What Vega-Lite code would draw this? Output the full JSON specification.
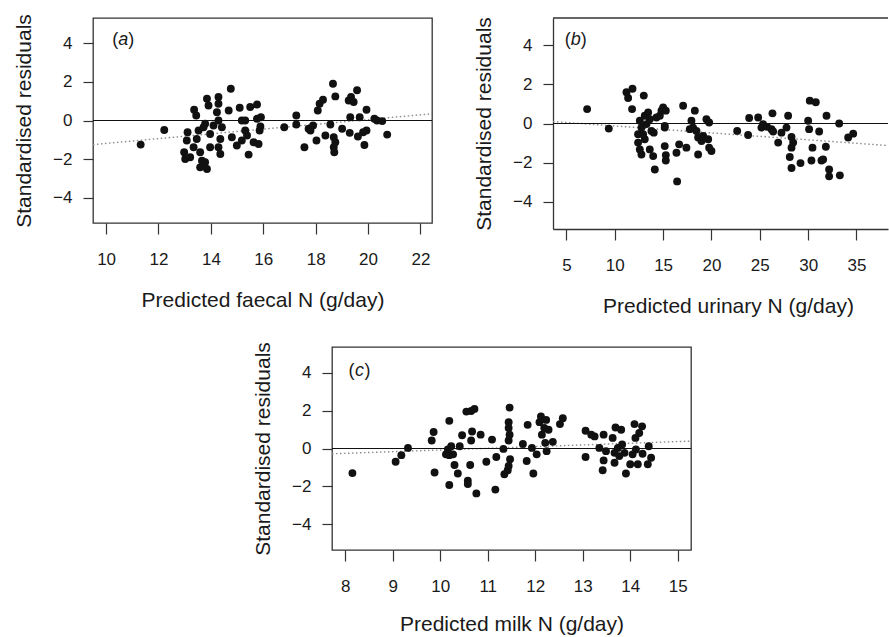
{
  "$schema": "https://vega.github.io/schema/vega-lite/v6.json",
  "padding": {"left": 12, "top": 13, "right": 0, "bottom": 0},
  "autosize": {"type": "pad"},
  "background": "white",
  "spacing": 25,
  "bounds": "full",
  "datasets": {
    "ptsA": [
      {"x":11.32,"y":-1.25},{"x":12.22,"y":-0.49},{"x":13.36,"y":0.56},{"x":13.44,"y":0.26},{"x":13.11,"y":-0.61},{"x":13.08,"y":-1.04},{"x":12.98,"y":-1.65},{"x":13.02,"y":-2.0},{"x":13.21,"y":-1.91},{"x":13.34,"y":-1.39},{"x":13.46,"y":-0.96},{"x":13.59,"y":-2.43},{"x":13.66,"y":-2.09},{"x":13.85,"y":-2.52},{"x":13.78,"y":-2.17},{"x":13.59,"y":-1.65},{"x":13.53,"y":-0.52},{"x":13.72,"y":-0.35},{"x":13.85,"y":1.13},{"x":13.91,"y":0.78},{"x":13.78,"y":-0.17},{"x":13.97,"y":-1.39},{"x":13.97,"y":-0.7},{"x":14.1,"y":-0.26},{"x":14.23,"y":0.43},{"x":14.29,"y":1.22},{"x":14.29,"y":0.87},{"x":14.29,"y":0.0},{"x":14.36,"y":-0.96},{"x":14.36,"y":-1.74},{"x":14.29,"y":-1.39},{"x":14.42,"y":-0.35},{"x":14.68,"y":0.52},{"x":14.76,"y":1.65},{"x":14.8,"y":-0.87},{"x":14.99,"y":-1.3},{"x":15.1,"y":0.66},{"x":15.18,"y":0.0},{"x":15.18,"y":-1.04},{"x":15.31,"y":-0.52},{"x":15.38,"y":-0.78},{"x":15.44,"y":-1.77},{"x":15.31,"y":0.0},{"x":15.5,"y":0.7},{"x":15.63,"y":-1.13},{"x":15.76,"y":0.83},{"x":15.76,"y":0.09},{"x":15.82,"y":-1.22},{"x":15.86,"y":-0.52},{"x":15.91,"y":0.17},{"x":15.89,"y":-0.31},{"x":16.8,"y":-0.35},{"x":17.26,"y":0.26},{"x":17.26,"y":-0.21},{"x":17.57,"y":-1.39},{"x":17.73,"y":-0.43},{"x":17.8,"y":-0.52},{"x":17.9,"y":-0.26},{"x":18.03,"y":-1.04},{"x":18.08,"y":0.52},{"x":18.15,"y":0.87},{"x":18.28,"y":1.08},{"x":18.37,"y":-0.78},{"x":18.56,"y":-0.21},{"x":18.66,"y":1.91},{"x":18.69,"y":-0.87},{"x":18.75,"y":1.25},{"x":18.69,"y":-1.39},{"x":18.71,"y":-1.65},{"x":18.75,"y":-1.13},{"x":19.01,"y":-0.43},{"x":19.26,"y":1.04},{"x":19.3,"y":-0.64},{"x":19.32,"y":0.17},{"x":19.35,"y":1.22},{"x":19.45,"y":0.96},{"x":19.58,"y":1.57},{"x":19.61,"y":-0.83},{"x":19.68,"y":0.17},{"x":19.81,"y":-0.61},{"x":19.86,"y":-1.27},{"x":19.94,"y":0.56},{"x":19.94,"y":-0.52},{"x":20.24,"y":0.09},{"x":20.34,"y":0.0},{"x":20.54,"y":-0.03},{"x":20.73,"y":-0.73}
    ],
    "ptsB": [
      {"x":7.14,"y":0.74},{"x":9.38,"y":-0.26},{"x":11.21,"y":1.6},{"x":11.38,"y":1.31},{"x":11.83,"y":1.78},{"x":11.79,"y":0.74},{"x":13.0,"y":1.43},{"x":12.59,"y":0.14},{"x":12.76,"y":-0.21},{"x":12.41,"y":-0.55},{"x":12.41,"y":-0.98},{"x":12.59,"y":-1.33},{"x":12.76,"y":-1.59},{"x":13.1,"y":0.4},{"x":13.28,"y":-0.03},{"x":13.1,"y":-0.81},{"x":12.93,"y":-0.55},{"x":13.45,"y":0.57},{"x":13.62,"y":0.22},{"x":13.62,"y":-1.33},{"x":13.97,"y":-1.67},{"x":13.79,"y":-0.38},{"x":14.14,"y":-2.36},{"x":14.03,"y":-0.47},{"x":14.31,"y":0.31},{"x":14.66,"y":0.4},{"x":14.83,"y":0.66},{"x":15.0,"y":0.83},{"x":15.17,"y":-0.12},{"x":15.28,"y":0.66},{"x":15.17,"y":-0.21},{"x":15.17,"y":-1.16},{"x":15.28,"y":-1.62},{"x":15.28,"y":-1.9},{"x":16.38,"y":-1.5},{"x":16.45,"y":-2.97},{"x":16.66,"y":-1.07},{"x":17.07,"y":0.91},{"x":17.41,"y":-1.24},{"x":17.93,"y":0.14},{"x":17.76,"y":-0.29},{"x":18.1,"y":-0.21},{"x":18.28,"y":0.66},{"x":18.45,"y":-0.38},{"x":18.62,"y":-0.72},{"x":18.62,"y":-1.59},{"x":18.97,"y":-0.9},{"x":19.14,"y":-0.64},{"x":19.48,"y":0.22},{"x":19.66,"y":-0.81},{"x":19.76,"y":-1.24},{"x":20.0,"y":-1.41},{"x":19.76,"y":0.05},{"x":22.66,"y":-0.38},{"x":23.79,"y":-0.59},{"x":23.9,"y":0.28},{"x":24.83,"y":0.31},{"x":25.17,"y":-0.21},{"x":25.34,"y":-0.03},{"x":25.76,"y":-0.17},{"x":26.21,"y":-0.29},{"x":26.31,"y":0.52},{"x":26.38,"y":-0.41},{"x":26.9,"y":-0.98},{"x":27.24,"y":-0.47},{"x":27.76,"y":-0.21},{"x":27.93,"y":0.4},{"x":28.28,"y":-0.69},{"x":28.45,"y":-0.98},{"x":28.28,"y":-1.24},{"x":28.1,"y":-1.72},{"x":28.28,"y":-2.28},{"x":29.21,"y":-2.03},{"x":30.0,"y":0.14},{"x":30.17,"y":1.17},{"x":30.1,"y":-0.29},{"x":30.45,"y":-1.24},{"x":30.34,"y":-1.9},{"x":30.79,"y":1.09},{"x":31.14,"y":-0.41},{"x":31.38,"y":-1.9},{"x":31.55,"y":-1.84},{"x":31.83,"y":-1.19},{"x":31.9,"y":0.4},{"x":32.17,"y":-2.36},{"x":32.17,"y":-2.71},{"x":33.21,"y":0.0},{"x":33.28,"y":-2.66},{"x":34.14,"y":-0.72},{"x":34.66,"y":-0.52}
    ],
    "ptsC": [
      {"x":8.15,"y":-1.3},{"x":9.06,"y":-0.7},{"x":9.18,"y":-0.35},{"x":9.32,"y":0.03},{"x":9.82,"y":0.42},{"x":9.86,"y":0.87},{"x":9.88,"y":-1.27},{"x":10.19,"y":1.46},{"x":10.12,"y":-0.31},{"x":10.16,"y":-0.05},{"x":10.19,"y":-0.35},{"x":10.23,"y":0.12},{"x":10.27,"y":-0.31},{"x":10.19,"y":-1.93},{"x":10.3,"y":-0.87},{"x":10.37,"y":-1.32},{"x":10.41,"y":0.12},{"x":10.46,"y":0.7},{"x":10.55,"y":1.95},{"x":10.58,"y":-1.7},{"x":10.58,"y":-1.88},{"x":10.63,"y":-0.87},{"x":10.65,"y":0.42},{"x":10.67,"y":0.9},{"x":10.65,"y":1.98},{"x":10.72,"y":2.09},{"x":10.76,"y":-2.37},{"x":10.85,"y":0.73},{"x":10.97,"y":-0.7},{"x":11.09,"y":0.47},{"x":11.16,"y":-2.17},{"x":11.18,"y":-0.45},{"x":11.33,"y":-0.02},{"x":11.35,"y":-1.36},{"x":11.42,"y":-1.15},{"x":11.46,"y":2.16},{"x":11.44,"y":1.39},{"x":11.44,"y":1.08},{"x":11.46,"y":0.73},{"x":11.44,"y":0.42},{"x":11.47,"y":-0.57},{"x":11.44,"y":-0.92},{"x":11.74,"y":0.24},{"x":11.84,"y":1.25},{"x":11.82,"y":-0.66},{"x":11.93,"y":0.03},{"x":11.96,"y":-1.32},{"x":12.03,"y":-0.31},{"x":12.09,"y":1.39},{"x":12.12,"y":1.69},{"x":12.14,"y":0.73},{"x":12.19,"y":1.08},{"x":12.23,"y":1.51},{"x":12.21,"y":0.3},{"x":12.24,"y":-0.14},{"x":12.28,"y":0.99},{"x":12.37,"y":0.35},{"x":12.52,"y":1.29},{"x":12.58,"y":1.6},{"x":13.06,"y":0.94},{"x":13.06,"y":-0.45},{"x":13.18,"y":0.73},{"x":13.25,"y":0.64},{"x":13.35,"y":0.03},{"x":13.44,"y":0.73},{"x":13.44,"y":-0.63},{"x":13.42,"y":-1.15},{"x":13.49,"y":-0.14},{"x":13.63,"y":0.56},{"x":13.67,"y":-0.23},{"x":13.67,"y":-0.75},{"x":13.69,"y":1.11},{"x":13.74,"y":0.03},{"x":13.77,"y":-0.4},{"x":13.81,"y":0.99},{"x":13.83,"y":0.21},{"x":13.88,"y":-0.23},{"x":13.91,"y":-1.32},{"x":14.0,"y":-0.83},{"x":14.05,"y":-0.31},{"x":14.09,"y":1.29},{"x":14.11,"y":0.56},{"x":14.12,"y":-0.05},{"x":14.16,"y":-0.83},{"x":14.19,"y":0.82},{"x":14.25,"y":1.17},{"x":14.26,"y":-0.28},{"x":14.37,"y":-0.83},{"x":14.39,"y":0.12},{"x":14.44,"y":-0.49}
    ],
    "fitA": [{"x":9.5,"y":-1.25},{"x":22.44,"y":0.35}],
    "fitB": [{"x":3.61,"y":0.1},{"x":38.26,"y":-1.13}],
    "fitC": [{"x":7.72,"y":-0.28},{"x":15.28,"y":0.39}],
    "zero": [{"y":0}],
    "labA": [{"x":10.65,"y":4.16,"t":"a"}],
    "labB": [{"x":5.96,"y":4.29,"t":"b"}],
    "labC": [{"x":8.3,"y":4.1,"t":"c"}]
  },
  "vconcat": [
    {
      "hconcat": [
        {
          "width": 339, "height": 205,
          "layer": [
            {"data": {"name": "fitA"}, "mark": {"type": "line", "color": "#8a8a8a", "strokeDash": [1.5, 2.5], "strokeWidth": 1.4, "clip": true},
             "encoding": {
               "x": {"field": "x", "type": "quantitative", "scale": {"domain": [9.5, 22.44], "nice": false, "zero": false}, "axis": {"values": [10,12,14,16,18,20,22], "title": "Predicted faecal N (g/day)"}},
               "y": {"field": "y", "type": "quantitative", "scale": {"domain": [-5.32, 5.32], "nice": false, "zero": false}, "axis": {"values": [-4,-2,0,2,4], "title": "Standardised residuals"}}}},
            {"data": {"name": "zero"}, "mark": {"type": "rule", "color": "#111", "strokeWidth": 1.2}, "encoding": {"y": {"field": "y", "type": "quantitative"}}},
            {"data": {"name": "ptsA"}, "mark": {"type": "circle", "size": 62, "color": "#111", "opacity": 1}, "encoding": {"x": {"field": "x", "type": "quantitative"}, "y": {"field": "y", "type": "quantitative"}}},
            {"data": {"name": "labA"},
             "encoding": {"x": {"field": "x", "type": "quantitative"}, "y": {"field": "y", "type": "quantitative"}},
             "layer": [
               {"mark": {"type": "text", "align": "right", "baseline": "middle", "dx": -5, "fontSize": 18, "color": "#1a1a1a"}, "encoding": {"text": {"value": "("}}},
               {"mark": {"type": "text", "align": "center", "baseline": "middle", "fontSize": 18, "fontStyle": "italic", "color": "#1a1a1a"}, "encoding": {"text": {"field": "t"}}},
               {"mark": {"type": "text", "align": "left", "baseline": "middle", "dx": 5, "fontSize": 18, "color": "#1a1a1a"}, "encoding": {"text": {"value": ")"}}}
             ]}
          ]
        },
        {
          "width": 335, "height": 211,
          "view": {"stroke": null},
          "layer": [
            {"data": {"name": "fitB"}, "mark": {"type": "line", "color": "#8a8a8a", "strokeDash": [1.5, 2.5], "strokeWidth": 1.4, "clip": true},
             "encoding": {
               "x": {"field": "x", "type": "quantitative", "scale": {"domain": [3.61, 38.26], "nice": false, "zero": false}, "axis": {"values": [5,10,15,20,25,30,35], "title": "Predicted urinary N (g/day)", "domain": true, "titleX": 175}},
               "y": {"field": "y", "type": "quantitative", "scale": {"domain": [-5.41, 5.41], "nice": false, "zero": false}, "axis": {"values": [-4,-2,0,2,4], "title": "Standardised residuals", "domain": true}}}},
            {"data": {"name": "zero"}, "mark": {"type": "rule", "color": "#111", "strokeWidth": 1.2}, "encoding": {"y": {"field": "y", "type": "quantitative"}}},
            {"data": {"values": [{"top": 5.41}]}, "mark": {"type": "rule", "color": "#333", "strokeWidth": 1.3}, "encoding": {"y": {"field": "top", "type": "quantitative"}}},
            {"data": {"name": "ptsB"}, "mark": {"type": "circle", "size": 62, "color": "#111", "opacity": 1}, "encoding": {"x": {"field": "x", "type": "quantitative"}, "y": {"field": "y", "type": "quantitative"}}},
            {"data": {"name": "labB"},
             "encoding": {"x": {"field": "x", "type": "quantitative"}, "y": {"field": "y", "type": "quantitative"}},
             "layer": [
               {"mark": {"type": "text", "align": "right", "baseline": "middle", "dx": -5, "fontSize": 18, "color": "#1a1a1a"}, "encoding": {"text": {"value": "("}}},
               {"mark": {"type": "text", "align": "center", "baseline": "middle", "fontSize": 18, "fontStyle": "italic", "color": "#1a1a1a"}, "encoding": {"text": {"field": "t"}}},
               {"mark": {"type": "text", "align": "left", "baseline": "middle", "dx": 5, "fontSize": 18, "color": "#1a1a1a"}, "encoding": {"text": {"value": ")"}}}
             ]}
          ]
        }
      ],
      "spacing": 121,
      "bounds": "flush"
    },
    {
      "hconcat": [
        {"width": 1, "height": 1, "data": {"values": [{"s": 0}]}, "mark": {"type": "point", "opacity": 0}, "encoding": {}, "view": {"stroke": null}},
        {
          "width": 359, "height": 203,
          "layer": [
            {"data": {"name": "fitC"}, "mark": {"type": "line", "color": "#8a8a8a", "strokeDash": [1.5, 2.5], "strokeWidth": 1.4, "clip": true},
             "encoding": {
               "x": {"field": "x", "type": "quantitative", "scale": {"domain": [7.72, 15.28], "nice": false, "zero": false}, "axis": {"values": [8,9,10,11,12,13,14,15], "title": "Predicted milk N (g/day)", "titlePadding": 19}},
               "y": {"field": "y", "type": "quantitative", "scale": {"domain": [-5.36, 5.36], "nice": false, "zero": false}, "axis": {"values": [-4,-2,0,2,4], "title": "Standardised residuals"}}}},
            {"data": {"name": "zero"}, "mark": {"type": "rule", "color": "#111", "strokeWidth": 1.2}, "encoding": {"y": {"field": "y", "type": "quantitative"}}},
            {"data": {"name": "ptsC"}, "mark": {"type": "circle", "size": 62, "color": "#111", "opacity": 1}, "encoding": {"x": {"field": "x", "type": "quantitative"}, "y": {"field": "y", "type": "quantitative"}}},
            {"data": {"name": "labC"},
             "encoding": {"x": {"field": "x", "type": "quantitative"}, "y": {"field": "y", "type": "quantitative"}},
             "layer": [
               {"mark": {"type": "text", "align": "right", "baseline": "middle", "dx": -5, "fontSize": 18, "color": "#1a1a1a"}, "encoding": {"text": {"value": "("}}},
               {"mark": {"type": "text", "align": "center", "baseline": "middle", "fontSize": 18, "fontStyle": "italic", "color": "#1a1a1a"}, "encoding": {"text": {"field": "t"}}},
               {"mark": {"type": "text", "align": "left", "baseline": "middle", "dx": 5, "fontSize": 18, "color": "#1a1a1a"}, "encoding": {"text": {"value": ")"}}}
             ]}
          ]
        }
      ],
      "spacing": 238,
      "bounds": "flush"
    }
  ],
  "config": {
    "font": "Liberation Sans",
    "view": {"stroke": "#333", "strokeWidth": 1.3},
    "axis": {"grid": false, "domain": false, "tickColor": "#333", "tickWidth": 1.2, "labelFont": "Liberation Sans", "labelFontSize": 17, "labelColor": "#1a1a1a", "titleFont": "Liberation Sans", "titleFontSize": 21, "titleFontWeight": "normal", "titleColor": "#1a1a1a", "domainColor": "#333", "domainWidth": 1.3, "labelOverlap": false},
    "axisX": {"tickSize": 11, "labelPadding": 17, "titlePadding": 22, "labelFlush": false},
    "axisY": {"tickSize": 10, "labelPadding": 11, "titlePadding": 18}
  }
}
